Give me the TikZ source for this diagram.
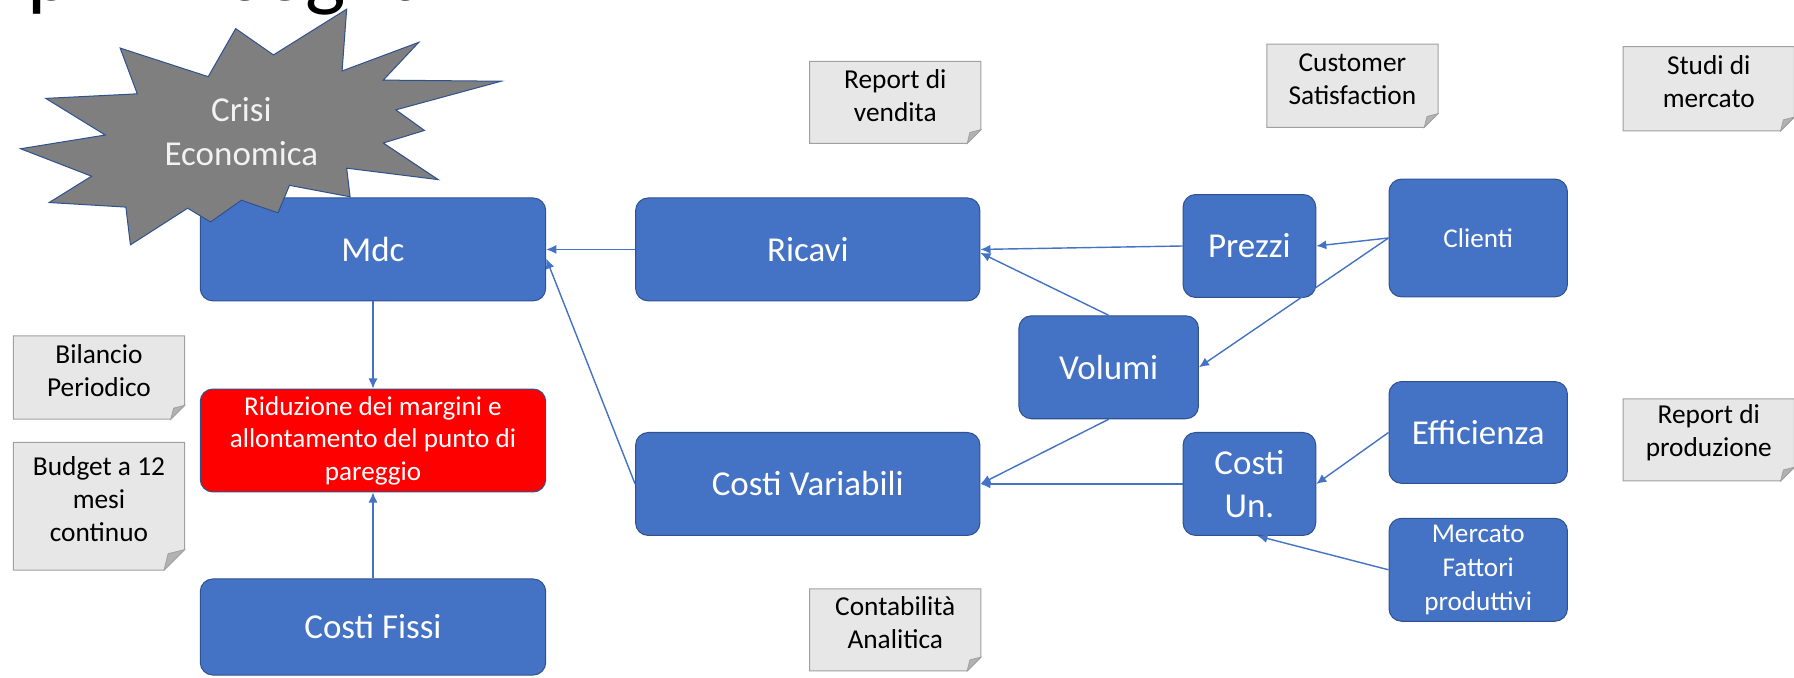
\documentclass[tikz,border=0pt]{standalone}
\usepackage{fontspec}
\setmainfont{Carlito}
\usepackage{tikz}
\usepackage{xcolor}
\usetikzlibrary{arrows.meta,backgrounds}

\definecolor{boxblue}{HTML}{4472C4}
\definecolor{edgeblue}{HTML}{2F528F}
\definecolor{notegray}{HTML}{E7E7E7}
\definecolor{noteedge}{HTML}{A0A0A0}
\definecolor{foldgray}{HTML}{B2B2B2}
\definecolor{burstgray}{HTML}{7F7F7F}

\begin{document}
\begin{tikzpicture}[x=0.02cm, y=-0.02cm,
    blk/.style={shape=rectangle, rounded corners=0.22cm, draw=edgeblue, line width=0.5pt, fill=boxblue, text=white, align=center, inner sep=2pt},
    big/.style={font=\fontsize{17.4}{21.5}\selectfont},
    small/.style={font=\fontsize{13.5}{16.2}\selectfont},
    note/.style={shape=rectangle, inner sep=2pt, align=center, font=\fontsize{13.6}{16.5}\selectfont, minimum width=2.98cm},
    notebg/.style={draw=noteedge, fill=notegray, line width=0.5pt},
    foldbg/.style={draw=noteedge, fill=foldgray, line width=0.4pt},
    burst/.style={draw=edgeblue, fill=burstgray, line width=0.5pt},
    link/.style={draw=boxblue, line width=0.7pt, -{Latex[length=5pt,width=4.5pt]}}]
    \useasboundingbox (0,0) rectangle (1568,592);

    \node[anchor=base west, inner sep=0pt, font=\fontsize{42.5}{50}\selectfont] (title) at (24,0.5) {primi segnali};

    \node[blk, big, minimum width=6.04cm, minimum height=1.8cm] (mdc) at (326,218) {Mdc};
    \node[blk, small, fill=red, minimum width=6.04cm, minimum height=1.8cm] (rid) at (326,385) {Riduzione dei margini e\\allontamento del punto di\\pareggio};
    \node[blk, big, minimum width=6.04cm, minimum height=1.68cm] (fissi) at (326,548) {Costi Fissi};
    \node[blk, big, minimum width=6.02cm, minimum height=1.8cm] (ricavi) at (706,218) {Ricavi};
    \node[blk, big, minimum width=6.02cm, minimum height=1.8cm] (cvar) at (706,423) {Costi Variabili};
    \node[blk, big, minimum width=3.14cm, minimum height=1.8cm] (volumi) at (969,321) {Volumi};
    \node[blk, big, minimum width=2.32cm, minimum height=1.8cm] (prezzi) at (1092,215) {Prezzi};
    \node[blk, big, minimum width=2.32cm, minimum height=1.8cm, font=\fontsize{17.4}{21}\selectfont] (costiun) at (1092,423) {Costi\\Un.};
    \node[blk, small, minimum width=3.12cm, minimum height=2.06cm] (clienti) at (1292,208) {Clienti};
    \node[blk, big, minimum width=3.12cm, minimum height=1.78cm] (effic) at (1292,378) {Efficienza};
    \node[blk, small, minimum width=3.12cm, minimum height=1.8cm, font=\fontsize{13.5}{16.8}\selectfont] (mercato) at (1292,498) {Mercato\\Fattori\\produttivi};

    \filldraw[burst] (303,8) -- (299,62) -- (366,37) -- (335,70) -- (438,71) -- (346,96) -- (371,114) -- (335,125) -- (383,157) -- (303,147) -- (306,172) -- (253,162) -- (243,186) -- (211,175) -- (184,194) -- (164,182) -- (114,214) -- (110,181) -- (43,177) -- (80,154) -- (18,130) -- (92,118) -- (40,86) -- (120,82) -- (105,42) -- (182,67) -- (206,25) -- (239,48) -- cycle;
    \node[big, text=white!95!black, align=center, font=\fontsize{17.4}{22.2}\selectfont] (crisi) at (211,115) {Crisi\\Economica};

    \node[note, minimum height=1.18cm] (repvend) at (782.5,83.5) {Report di\\vendita};
    \node[note, minimum height=1.2cm] (custsat) at (1182,69) {Customer\\Satisfaction};
    \node[note, minimum height=1.22cm] (studi) at (1493.5,71.5) {Studi di\\mercato};
    \node[note, minimum height=1.2cm] (bilancio) at (86.5,324) {Bilancio\\Periodico};
    \node[note, minimum height=1.98cm] (budget) at (86.5,436.5) {Budget a 12\\mesi\\continuo};
    \node[note, minimum height=1.18cm] (repprod) at (1493.5,378.5) {Report di\\produzione};
    \node[note, minimum height=1.18cm] (contab) at (782.5,544.5) {Contabilità\\Analitica};

    \begin{scope}[on background layer]
    \foreach \n/\f in {repvend/0.24cm, custsat/0.24cm, studi/0.24cm, bilancio/0.24cm, budget/0.36cm, repprod/0.24cm, contab/0.24cm} {
        \filldraw[notebg] (\n.north west) -- (\n.north east) -- ([yshift=\f-0.24cm]\n.south east) -- ([xshift=-\f, yshift=-0.24cm]\n.south east) -- ([yshift=-0.24cm]\n.south west) -- cycle;
        \filldraw[foldbg] ([yshift=\f-0.24cm]\n.south east) -- ([xshift=-\f, yshift=-0.24cm]\n.south east) -- ([xshift=-0.8*\f, yshift=0.8*\f-0.24cm]\n.south east) -- cycle;
    }
    \end{scope}

    \draw[link] (ricavi.west) -- (mdc.east);
    \draw[link] (cvar.west) -- ([yshift=-0.16cm]mdc.east);
    \draw[link] (mdc.south) -- (rid.north);
    \draw[link] (fissi.north) -- (rid.south);
    \draw[link] (prezzi.west) -- (ricavi.east);
    \draw[link] (volumi.north) -- ([yshift=-0.06cm]ricavi.east);
    \draw[link] (clienti.west) -- (prezzi.east);
    \draw[link] (clienti.west) -- (volumi.east);
    \draw[link] (volumi.south) -- (cvar.east);
    \draw[link] (costiun.west) -- (cvar.east);
    \draw[link] (effic.west) -- (costiun.east);
    \draw[link] (mercato.west) -- ([xshift=0.14cm]costiun.south);
\end{tikzpicture}
\end{document}
